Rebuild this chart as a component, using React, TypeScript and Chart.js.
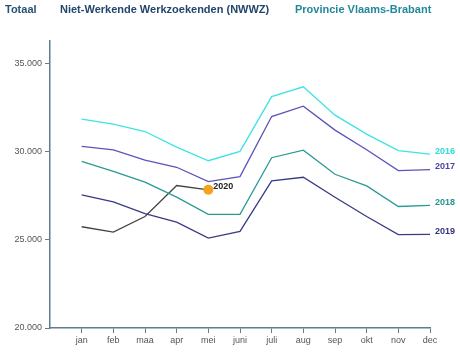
import React, { useEffect, useRef } from 'react';
import { Chart, registerables } from 'chart.js';
Chart.register(...registerables);

const months = ['jan', 'feb', 'maa', 'apr', 'mei', 'juni', 'juli', 'aug', 'sep', 'okt', 'nov', 'dec'];
const yTickValues = [20000, 25000, 30000, 35000];
const seriesNames = ['2016', '2017', '2018', '2019', '2020'];
const s2016 = [31860, 31580, 31160, 30270, 29500, 30030, 33140, 33700, 32090, 31010, 30070, 29880];
const s2017 = [30310, 30120, 29540, 29130, 28310, 28600, 32010, 32600, 31240, 30120, 28940, 29000];
const s2018 = [29470, 28900, 28280, 27430, 26450, 26450, 29670, 30100, 28730, 28070, 26900, 26960];
const s2019 = [27560, 27160, 26490, 26010, 25110, 25490, 28350, 28560, 27430, 26330, 25300, 25320];
const s2020 = [25750, 25450, 26330, 28090, 27850];
const seriesColors = ['#3ee3e3', '#5a55b8', '#2a9a95', '#3a3a85', '#444444'];
const labelColors = ['#2fdada', '#4a44a8', '#249490', '#33337a', '#222222'];

const endLabels = {
  id: 'endLabels',
  afterDatasetsDraw(chart: any) {
    const ctx = chart.ctx;
    ctx.save();
    ctx.font = 'bold 9px "Liberation Sans", Arial, sans-serif';
    ctx.textAlign = 'left';
    ctx.textBaseline = 'middle';
    chart.data.datasets.forEach((ds: any, i: number) => {
      const meta = chart.getDatasetMeta(i);
      const pt = meta.data[meta.data.length - 1];
      if (!pt) return;
      ctx.fillStyle = labelColors[i];
      ctx.fillText(ds.label, pt.x + 5, pt.y - 3);
    });
    ctx.restore();
  },
};

export default function App() {
  const ref = useRef<HTMLCanvasElement>(null);
  useEffect(() => {
    document.body.style.margin = '0';
    const all = [s2016, s2017, s2018, s2019, s2020];
    const datasets = all.map((vals, i) => ({
      label: seriesNames[i],
      data: vals.map((v, j) => ({ x: j + 1, y: v })),
      borderColor: seriesColors[i],
      backgroundColor: seriesColors[i],
      borderWidth: 1.3,
      tension: 0,
      pointRadius: i === 4 ? vals.map((_, j) => (j === vals.length - 1 ? 5 : 0)) : 0,
      pointBackgroundColor: '#f5a21c',
      pointBorderColor: '#f5a21c',
      pointBorderWidth: 0,
    }));
    const axisColor = '#5f7f8e';
    const chart = new Chart(ref.current!, {
      type: 'line',
      data: { datasets } as any,
      options: {
        animation: false,
        responsive: false,
        layout: { padding: { left: 0, right: 30, top: 41, bottom: 0 } },
        plugins: { legend: { display: false }, tooltip: { enabled: false } },
        scales: {
          x: {
            type: 'linear',
            min: 0,
            max: 12,
            afterFit: (s: any) => { s.height = 25; },
            afterBuildTicks: (s: any) => { s.ticks = months.map((_, i) => ({ value: i + 1 })); },
            ticks: {
              autoSkip: false,
              maxRotation: 0,
              padding: 2,
              color: '#555',
              font: { size: 9, family: '"Liberation Sans", Arial, sans-serif' },
              callback: (v: any) => months[Number(v) - 1] ?? '',
            },
            grid: { display: true, drawOnChartArea: false, drawTicks: true, tickLength: 5, color: axisColor },
            border: { display: true, color: axisColor, width: 1.5 },
          },
          y: {
            type: 'linear',
            min: 20000,
            max: 36300,
            afterFit: (s: any) => { s.width = 50; },
            afterBuildTicks: (s: any) => { s.ticks = yTickValues.map((v) => ({ value: v })); },
            ticks: {
              padding: 3,
              color: '#555',
              font: { size: 9, family: '"Liberation Sans", Arial, sans-serif' },
              callback: (v: any) => String(v).replace(/\B(?=(\d{3})+(?!\d))/g, '.'),
            },
            grid: { display: true, drawOnChartArea: false, drawTicks: true, tickLength: 5, color: axisColor },
            border: { display: true, color: axisColor, width: 1.5 },
          },
        },
      },
      plugins: [endLabels],
    });
    return () => chart.destroy();
  }, []);

  const titleStyle: React.CSSProperties = {
    position: 'absolute',
    top: 3,
    fontFamily: '"Liberation Sans", Arial, sans-serif',
    fontWeight: 'bold',
    fontSize: 11,
    whiteSpace: 'nowrap',
  };
  return (
    <div style={{ position: 'fixed', left: 0, top: 0, width: 460, height: 353, background: '#fff' }}>
      <canvas ref={ref} width={460} height={353} style={{ position: 'absolute', left: 0, top: 0 }} />
      <div style={{ ...titleStyle, left: 5, color: '#2a5172' }}>Totaal</div>
      <div style={{ ...titleStyle, left: 60, color: '#22466c' }}>Niet-Werkende Werkzoekenden (NWWZ)</div>
      <div style={{ ...titleStyle, left: 295, color: '#23889a' }}>Provincie Vlaams-Brabant</div>
    </div>
  );
}
